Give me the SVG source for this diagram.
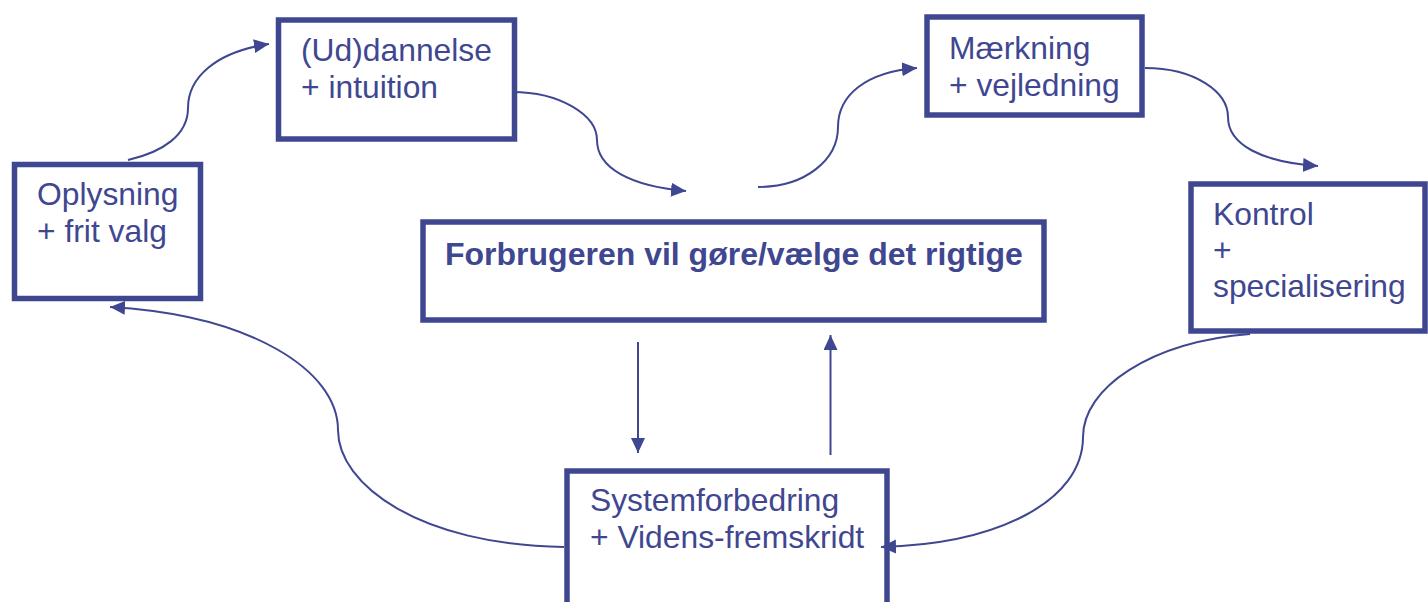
<svg xmlns="http://www.w3.org/2000/svg" width="1428" height="602" viewBox="0 0 1428 602">
<style>
.box{fill:#fff;stroke:#3f4791;stroke-width:5.5}
.t{font-family:"Liberation Sans",Arial,sans-serif;font-size:31.8px;fill:#3f4791}
.b{font-weight:bold;font-size:32px}
.c{fill:none;stroke:#3f4791;stroke-width:2}
</style>
<defs>
<marker id="ah" markerUnits="userSpaceOnUse" markerWidth="16" markerHeight="15" refX="15" refY="7" orient="auto">
<path d="M0,0 L15,7 L0,14 z" fill="#3f4791"/>
</marker>
</defs>
<rect width="1428" height="602" fill="#fff"/>
<g id="n-oplysning">
<rect class="box" x="14.5" y="164.5" width="186" height="134"/>
<text class="t" x="37" y="205">Oplysning</text>
<text class="t" x="37" y="242">+ frit valg</text>
</g>
<g id="n-uddannelse">
<rect class="box" x="278.5" y="20" width="236" height="119"/>
<text class="t" x="301" y="61">(Ud)dannelse</text>
<text class="t" x="301" y="98">+ intuition</text>
</g>
<g id="n-forbrugeren">
<rect class="box" x="423" y="222" width="621" height="98"/>
<text class="t b" x="445" y="265">Forbrugeren vil gøre/vælge det rigtige</text>
</g>
<g id="n-maerkning">
<rect class="box" x="927" y="17" width="215" height="98"/>
<text class="t" x="949" y="59">Mærkning</text>
<text class="t" x="949" y="96">+ vejledning</text>
</g>
<g id="n-kontrol">
<rect class="box" x="1191" y="184" width="234" height="147"/>
<text class="t" x="1213" y="225">Kontrol</text>
<text class="t" x="1213" y="261">+</text>
<text class="t" x="1213" y="297">specialisering</text>
</g>
<g id="n-system">
<rect class="box" x="567" y="471" width="320" height="145"/>
<text class="t" x="590" y="511">Systemforbedring</text>
<text class="t" x="590" y="548">+ Videns-fremskridt</text>
</g>
<g id="connectors">
<path class="c" marker-end="url(#ah)" d="M128,160 C163,152 188,135 188,108 C188,78 215,52 269,44"/>
<path class="c" marker-end="url(#ah)" d="M512,92 C560,92 597,115 597,140 C597,168 630,186 686,191"/>
<path class="c" marker-end="url(#ah)" d="M758,187 C805,187 838,160 838,127 C838,95 866,72 917,68"/>
<path class="c" marker-end="url(#ah)" d="M1145,68 C1195,68 1228,92 1228,117 C1228,145 1262,162 1318,166"/>
<path class="c" marker-end="url(#ah)" d="M1250,334 C1150,342 1083,388 1083,437 C1083,500 1000,544 881,547"/>
<path class="c" marker-end="url(#ah)" d="M564,547 C420,545 338,485 338,430 C338,370 250,315 110,307"/>
<path class="c" marker-end="url(#ah)" d="M638,342 L638,453"/>
<path class="c" marker-end="url(#ah)" d="M830.5,455 L830.5,335"/>
</g>
</svg>
